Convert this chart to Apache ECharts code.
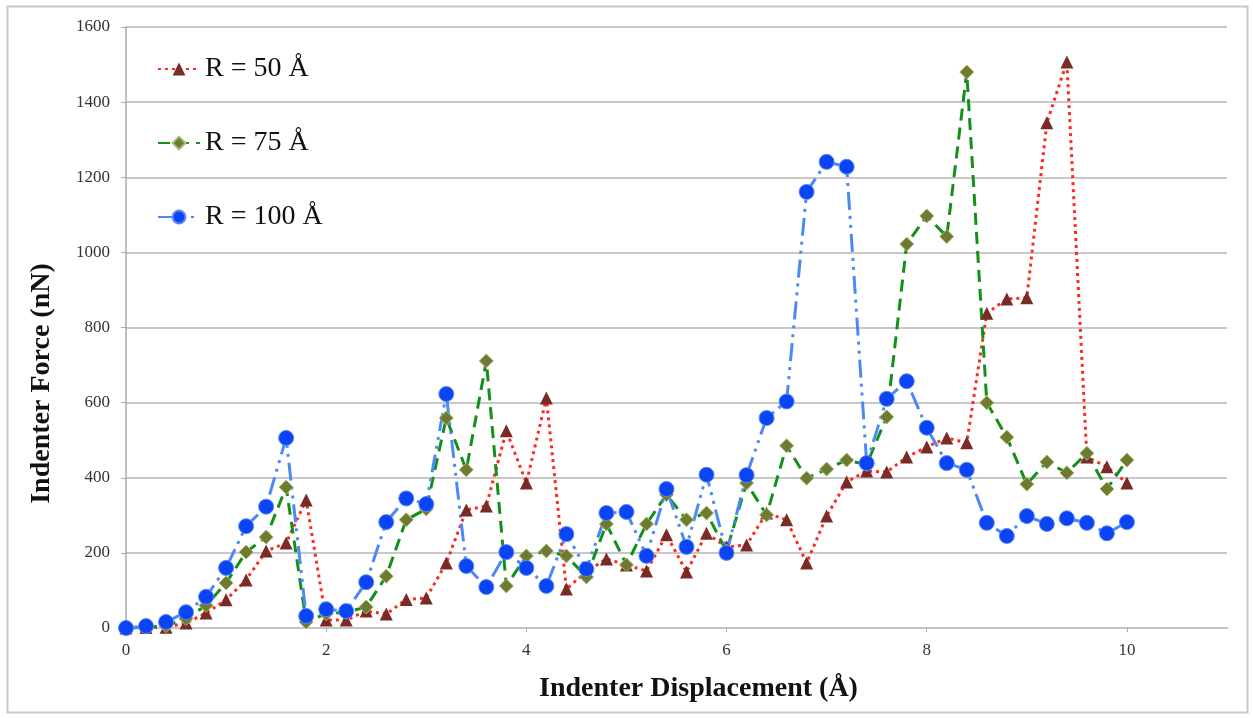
<!DOCTYPE html>
<html>
<head>
<meta charset="utf-8">
<title>Indenter Force vs Displacement</title>
<script src="https://cdn.jsdelivr.net/npm/echarts@6/dist/echarts.min.js"></script>
<style>
  html, body { margin: 0; padding: 0; background: #fff; }
  #main { width: 1253px; height: 719px; }
</style>
</head>
<body>
<div id="main"></div>
<script>
// displacement (Å)
var displacement = [0, 0.2, 0.4, 0.6, 0.8, 1.0, 1.2, 1.4, 1.6, 1.8,
  2.0, 2.2, 2.4, 2.6, 2.8, 3.0, 3.2, 3.4, 3.6, 3.8,
  4.0, 4.2, 4.4, 4.6, 4.8, 5.0, 5.2, 5.4, 5.6, 5.8,
  6.0, 6.2, 6.4, 6.6, 6.8, 7.0, 7.2, 7.4, 7.6, 7.8,
  8.0, 8.2, 8.4, 8.6, 8.8, 9.0, 9.2, 9.4, 9.6, 9.8, 10.0];

// force (nN)
var r50 = [0, 1, 2, 13, 40, 75, 128, 205, 226, 341,
  21, 21, 45, 37, 76, 80, 173, 314, 325, 525,
  386, 612, 104, 150, 184, 168, 152, 248, 149, 252,
  216, 221, 306, 288, 173, 298, 389, 418, 415, 455,
  482, 506, 493, 838, 876, 879, 1345, 1507, 455, 429, 386];

var r75 = [0, 2, 6, 25, 60, 120, 202, 242, 375, 16,
  38, 42, 56, 138, 288, 317, 559, 421, 711, 112,
  192, 205, 192, 136, 277, 168, 277, 355, 288, 306,
  205, 386, 301, 485, 399, 423, 447, 435, 562, 1022,
  1097, 1042, 1480, 600, 508, 383, 442, 413, 465, 370, 447];

var r100 = [0, 5, 16, 42, 83, 160, 271, 323, 506, 32,
  50, 45, 122, 282, 345, 330, 623, 165, 109, 202,
  160, 112, 250, 157, 306, 309, 192, 370, 216, 408,
  200, 407, 559, 603, 1161, 1241, 1228, 439, 610, 657,
  533, 439, 421, 280, 245, 298, 277, 292, 280, 252, 282];

var seriesNames = ['R = 50 Å', 'R = 75 Å', 'R = 100 Å'];

function pairs(ys) {
  return displacement.map(function (x, i) { return [x, ys[i]]; });
}

var serif = '"Liberation Serif", "DejaVu Serif", serif';

var myChart = echarts.init(document.getElementById('main'));
var option = {
  backgroundColor: '#fff',
  animation: false,
  graphic: [{
    type: 'rect',
    shape: { x: 7.5, y: 6.5, width: 1240, height: 706 },
    style: { fill: 'none', stroke: '#c8c8c8', lineWidth: 2 },
    silent: true
  }],
  grid: {
    left: 126,
    right: 26,
    top: 27,
    bottom: 91
  },
  legend: {
    orient: 'vertical',
    left: 152,
    top: 50,
    itemWidth: 42,
    itemHeight: 16,
    itemGap: 46,
    data: seriesNames,
    textStyle: {
      fontFamily: serif,
      fontSize: 28,
      lineHeight: 28,
      color: '#111'
    }
  },
  xAxis: {
    type: 'value',
    min: 0,
    max: 11,
    interval: 2,
    name: 'Indenter Displacement (Å)',
    nameLocation: 'middle',
    nameGap: 47,
    nameTextStyle: {
      fontFamily: serif,
      fontSize: 28,
      fontWeight: 'bold',
      color: '#111',
      padding: [0, 0, 0, 44]
    },
    axisLine: { lineStyle: { color: '#c4c4c4', width: 2 } },
    axisTick: { show: true, length: 4, lineStyle: { color: '#aaa' } },
    axisLabel: {
      fontFamily: serif,
      fontSize: 17,
      color: '#333',
      margin: 14,
      showMaxLabel: false
    },
    splitLine: { show: false }
  },
  yAxis: {
    type: 'value',
    min: 0,
    max: 1600,
    interval: 200,
    name: 'Indenter Force (nN)',
    nameLocation: 'middle',
    nameGap: 70,
    nameTextStyle: {
      fontFamily: serif,
      fontSize: 28,
      fontWeight: 'bold',
      color: '#111',
      padding: [0, 112, 0, 0]
    },
    axisLine: { show: true, lineStyle: { color: '#aaa', width: 1.5 } },
    axisTick: { show: true, length: 5, lineStyle: { color: '#aaa' } },
    axisLabel: {
      fontFamily: serif,
      fontSize: 17,
      color: '#333',
      margin: 16,
      formatter: function (v) { return String(v); }
    },
    splitLine: { lineStyle: { color: '#c8c8c8', width: 2 } }
  },
  series: [
    {
      name: seriesNames[0],
      type: 'line',
      data: pairs(r50),
      symbol: 'triangle',
      symbolSize: 13,
      itemStyle: { color: '#7a2b25' },
      lineStyle: { color: '#ff2a1f', width: 3, type: [3, 4] }
    },
    {
      name: seriesNames[1],
      type: 'line',
      data: pairs(r75),
      symbol: 'diamond',
      symbolSize: 14,
      itemStyle: { color: '#6d7a30', borderColor: '#a9b870', borderWidth: 1 },
      lineStyle: { color: '#12901a', width: 3, type: [12, 7] }
    },
    {
      name: seriesNames[2],
      type: 'line',
      data: pairs(r100),
      symbol: 'circle',
      symbolSize: 15,
      itemStyle: { color: '#0a44f5', borderColor: '#5a88f8', borderWidth: 1 },
      lineStyle: { color: '#4b8af6', width: 3, type: [18, 6, 3, 6, 3, 6] }
    }
  ]
};
myChart.setOption(option);
</script>
</body>
</html>
